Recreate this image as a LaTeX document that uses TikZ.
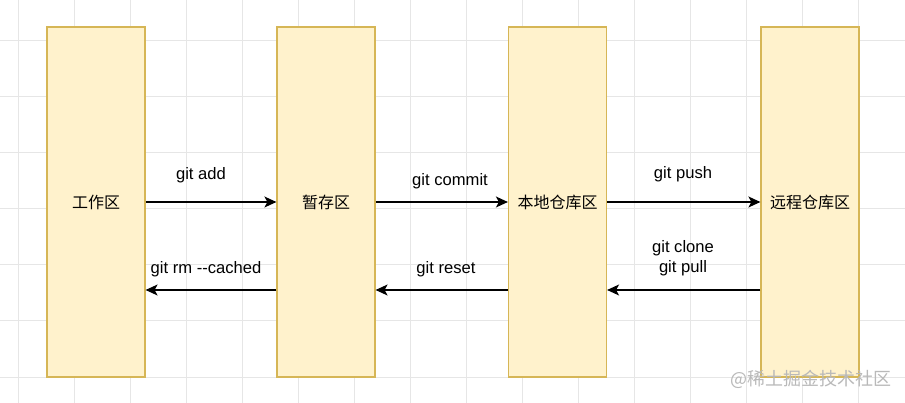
\documentclass[tikz,border=0pt]{standalone}
\usepackage{fontspec}
\setmainfont{Liberation Sans}
\newfontfamily\cjk{Noto Sans CJK SC}
\usetikzlibrary{arrows.meta}
\definecolor{boxfill}{HTML}{FFF2CC}
\definecolor{boxline}{HTML}{D6B656}
\definecolor{gridline}{HTML}{E6E6E6}
\tikzset{
	area/.style={draw=boxline, fill=boxfill, line width=1.2pt, minimum width=98pt, minimum height=350pt, inner sep=0pt, font=\cjk\fontsize{16}{19}\selectfont},
	cmd/.style={font=\fontsize{16.6}{20}\selectfont, inner sep=0pt, align=center},
	flow/.style={line width=1.3pt, -{Stealth[length=12pt, width=11pt, inset=3pt]}}
}

\begin{document}
\begin{tikzpicture}[x=1pt, y=-1pt]
		\useasboundingbox (0,0) rectangle (905,403);
		\fill [white] (0,0) rectangle (905,403);
		\foreach \gx in {18,74,...,905} \draw [gridline, line width=1pt] (\gx,0) -- (\gx,403);
		\foreach \gy in {41,97,...,403} \draw [gridline, line width=1pt] (0,\gy) -- (905,\gy);
		\node [area] (work) at (96,202) {工作区};
		\node [area] (stage) at (326,202) {暂存区};
		\node [area] (local) at (557.5,202) {本地仓库区};
		\node [area] (remote) at (810,202) {远程仓库区};
		\draw [flow] (work) -- (stage);
		\draw [flow] (stage) -- (local);
		\draw [flow] (local) -- (remote);
		\draw [flow] ([yshift=-88pt]stage.west) -- ([yshift=-88pt]work.east);
		\draw [flow] ([yshift=-88pt]local.west) -- ([yshift=-88pt]stage.east);
		\draw [flow] ([yshift=-88pt]remote.west) -- ([yshift=-88pt]local.east);
		\node [cmd] (add) at (201,175) {git add};
		\node [cmd] (rm) at (206,269) {git rm {-}{-}cached};
		\node [cmd] (commit) at (450,181) {git commit};
		\node [cmd] (reset) at (446,269) {git reset};
		\node [cmd] (push) at (683,174) {git push};
		\node [cmd] (pull) at (683,258) {git clone\\git pull};
		\node [font=\cjk\fontsize{18}{20}\selectfont, text=gray!55, inner sep=0pt] (mark) at (811,379) {@稀土掘金技术社区};
	\end{tikzpicture}
\end{document}
